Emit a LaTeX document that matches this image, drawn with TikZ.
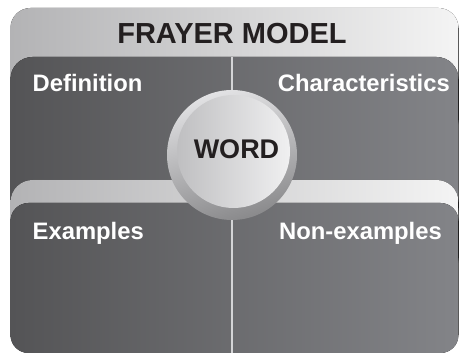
\documentclass[tikz,border=0pt]{standalone}
\usepackage{fontspec}
\setmainfont{Liberation Sans}
\definecolor{bandL}{HTML}{B3B3B5}
\definecolor{bandM}{HTML}{AEAEB0}
\definecolor{bandR}{HTML}{F4F4F4}
\definecolor{darkL}{HTML}{545456}
\definecolor{darkR}{HTML}{838488}
\definecolor{ringT}{HTML}{E2E2E4}
\definecolor{ringB}{HTML}{8A8A8C}
\definecolor{coreL}{HTML}{BFBFC1}
\definecolor{coreR}{HTML}{F0F0F1}
\definecolor{inkc}{HTML}{231F20}
\definecolor{linec}{HTML}{D4D4D6}
\tikzset{
  band/.style={left color=bandL, middle color=bandM, right color=bandR},
  panel/.style={left color=darkL, right color=darkR},
  title/.style={font=\bfseries\fontsize{29}{29}\selectfont, text=inkc, inner sep=0pt},
  label/.style={font=\bfseries\fontsize{23.8}{24}\selectfont, text=white, inner sep=0pt},
  wordtext/.style={font=\bfseries\fontsize{27}{27}\selectfont, text=inkc, inner sep=0pt},
}
\begin{document}
\begin{tikzpicture}[x=1pt,y=-1pt]
\useasboundingbox (0,0) rectangle (459,355);
% top band
\fill[band, rounded corners=20pt] (10.5,8) rectangle (458.5,140);
% upper dark panel
\fill[panel, rounded corners=22pt] (10.5,57) rectangle (458.5,230);
% middle band
\fill[band, rounded corners=22pt] (10.5,180) rectangle (458.5,280);
% lower dark panel
\fill[panel, rounded corners=18pt] (10.5,203) rectangle (458.5,353);
% divider
\coordinate (divtop) at (232,57);
\coordinate (divbot) at (232,353);
\draw[linec, line width=1.4pt] (divtop) -- (divbot);
% circle
\node[circle, minimum size=130pt, inner sep=0pt, shading=axis, top color=ringT, bottom color=ringB, shading angle=15] (ring) at (232,155) {};
\node[circle, minimum size=113pt, inner sep=0pt, left color=coreL, right color=coreR] (core) at (233.5,151.5) {};
\node[wordtext, anchor=base] (word) at (236.5,158.5) {WORD};
% texts
\node[title, anchor=base] (ttl) at (232,43.3) {FRAYER MODEL};
\node[label, anchor=base west] (def) at (32.5,91.7) {Definition};
\node[label, anchor=base east] (chr) at (450,91.7) {Characteristics};
\node[label, anchor=base west] (exa) at (32.5,240) {Examples};
\node[label, anchor=base east] (non) at (442,240) {Non-examples};
\end{tikzpicture}
\end{document}
